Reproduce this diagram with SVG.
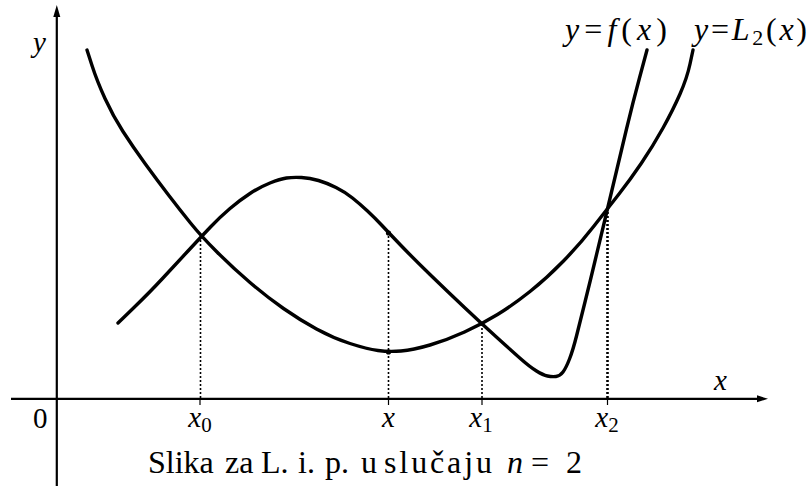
<svg xmlns="http://www.w3.org/2000/svg" width="809" height="486" viewBox="0 0 809 486">
<style>
.ax{stroke:#000;stroke-width:2.2;fill:none}
.tk{stroke:#000;stroke-width:1.2;fill:none}
.cv{stroke:#000;stroke-width:3.4;fill:none;stroke-linecap:round;stroke-linejoin:round}
.dt{stroke:#000;stroke-width:1.6;fill:none;stroke-dasharray:2 2}
text{font-family:"Liberation Serif","Times New Roman",serif;fill:#000}
.i{font-style:italic}
.lab{font-size:29px}
.top{font-size:32px}
.cap{font-size:32px}
</style>
<rect width="809" height="486" fill="#fff"/>
<g id="axes">
<line class="ax" x1="11" y1="398.8" x2="760" y2="398.8"/>
<polygon points="768,398.8 757,395.3 757,402.3" fill="#000"/>
<line class="ax" x1="56.8" y1="486" x2="56.8" y2="13"/>
<polygon points="56.8,5 53.3,17 60.3,17" fill="#000"/>
<g id="ticks">
<line class="tk" x1="200" y1="399" x2="200" y2="405"/>
<line class="tk" x1="388.5" y1="399" x2="388.5" y2="405"/>
<line class="tk" x1="482" y1="399" x2="482" y2="405"/>
<line class="tk" x1="607.5" y1="399" x2="607.5" y2="405"/>
</g>
</g>
<g id="connectors">
<line class="dt" x1="200.5" y1="398" x2="200.5" y2="238"/>
<line class="dt" x1="388.5" y1="398" x2="388.5" y2="233"/>
<line class="dt" x1="482" y1="398" x2="482" y2="324"/>
<line class="dt" x1="607.5" y1="398" x2="607.5" y2="208" style="stroke-width:2.6"/>
</g>
<g id="curve-L2">
<path class="cv" d="M87,50 L92,65.5 Q97,81 105,98.5 Q113,116 123,131.5 Q133,147 145,163.5 Q157,180 168.5,195 Q180,210 190.5,223 Q201,236 217,252 Q233,268 250,282.5 Q267,297 283.5,308.5 Q300,320 316.5,329 Q333,338 350,343.5 Q367,349 378,350.5 Q389,352 401,351 Q413,350 430,345 Q447,340 464.5,332 Q482,324 497.5,314.5 Q513,305 530,291.5 Q547,278 563.5,261 Q580,244 594,226 Q608,208 619,194 Q630,180 641.5,163 Q653,146 663,128 Q673,110 680,94 Q687,78 690,64 L693,50"/>
</g>
<g id="curve-f">
<path class="cv" d="M118,323 L134,307.5 Q150,292 162.5,278.5 Q175,265 188,251 Q201,237 210.5,227 Q220,217 230,208.5 Q240,200 250,193.5 Q260,187 270,183 Q280,179 286.5,178 Q293,177 301.5,177.5 Q310,178 318.5,180.5 Q327,183 336,187.5 Q345,192 352.5,198 Q360,204 367.5,211 Q375,218 382,225.5 Q389,233 401,245.5 Q413,258 430,274.5 Q447,291 464.5,307.5 Q482,324 497.5,338 Q513,352 521.5,359.5 Q530,367 536.5,371 Q543,375 547.5,376 Q552,377 556,376.5 Q560,376 563,372 Q566,368 569.5,359 Q573,350 576.5,336 Q580,322 585,302 Q590,282 595,261 Q600,240 604,223.5 Q608,207 614,181.5 Q620,156 626.5,129 Q633,102 640,76 L647,50"/>
</g>
<g id="points">
<circle cx="388.5" cy="233" r="2.6" fill="#000"/>
<circle cx="388.5" cy="352" r="2.6" fill="#000"/>
</g>
<g id="labels">
<text class="lab i" x="33" y="52">y</text>
<text class="lab i" x="714" y="390">x</text>
<text class="lab" x="33" y="428">0</text>
<text class="lab" x="200" y="427" text-anchor="middle"><tspan class="i">x</tspan><tspan font-size="21" dy="5">0</tspan></text>
<text class="lab i" x="388.5" y="427" text-anchor="middle">x</text>
<text class="lab" x="481" y="427" text-anchor="middle"><tspan class="i">x</tspan><tspan font-size="21" dy="5">1</tspan></text>
<text class="lab" x="607" y="427" text-anchor="middle"><tspan class="i">x</tspan><tspan font-size="21" dy="5">2</tspan></text>
<text class="top" x="565" y="40" textLength="102" lengthAdjust="spacing"><tspan class="i">y</tspan>=<tspan class="i">f</tspan>(<tspan class="i">x</tspan>)</text>
<text class="top" x="694" y="40" textLength="113" lengthAdjust="spacing"><tspan class="i">y</tspan>=<tspan class="i">L</tspan><tspan dy="5" font-size="22">2</tspan><tspan dy="-5">(</tspan><tspan class="i">x</tspan>)</text>
</g>
<g id="caption">
<text class="cap" x="148" y="473">Slika</text>
<text class="cap" x="225" y="473">za</text>
<text class="cap" x="261" y="473">L.</text>
<text class="cap" x="298" y="473">i.</text>
<text class="cap" x="325" y="473">p.</text>
<text class="cap" x="361" y="473">u</text>
<text class="cap" x="384" y="473" textLength="108" lengthAdjust="spacing">slučaju</text>
<text class="cap i" x="507" y="473">n</text>
<text class="cap" x="531" y="473">=</text>
<text class="cap" x="566" y="473">2</text>
</g>
</svg>
